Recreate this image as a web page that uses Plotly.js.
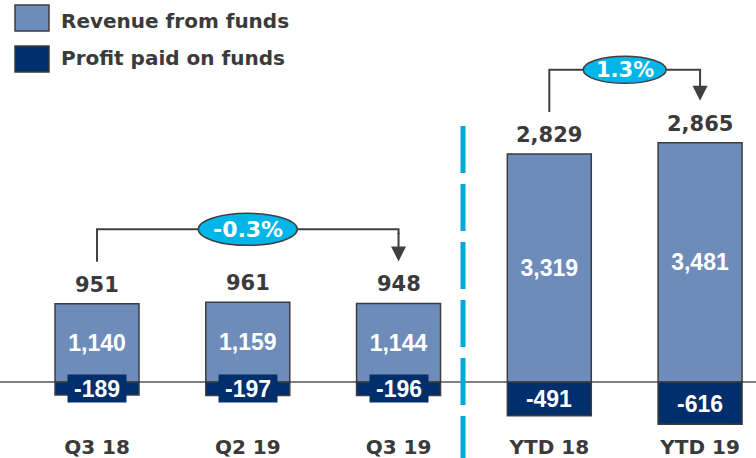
<!DOCTYPE html>
<html>
<head>
<meta charset="utf-8">
<script src="https://cdn.plot.ly/plotly-3.0.1.min.js"></script>
<style>html,body{margin:0;padding:0;background:#fff;}#chart{width:756px;height:458px;}</style>
</head>
<body>
<div id="chart"></div>
<script>
// ---- data ----
const categories = ["Q3 18", "Q2 19", "Q3 19", "YTD 18", "YTD 19"];
const revenue = [1140, 1159, 1144, 3319, 3481];
const profitPaid = [-189, -197, -196, -491, -616];
const netTotals = [951, 961, 948, 2829, 2865];
const changeLabels = ["-0.3%", "1.3%"];
const seriesNames = ["Revenue from funds", "Profit paid on funds"];

// ---- styling ----
const W = 756, H = 458, MB = 30;
const plotH = H - MB;
const yMin = -670, yMax = 5560;
const u = (yMax - yMin) / plotH; // data units per pixel
const xMin = -0.6435, xMax = 4.371;
const revColor = "#6E8CBA";
const profColor = "#002F6C";
const edge = "#3d3d3d";
const txt = "#3a3a3a";
const cyan = "#00B5E8";
const idx = categories.map((c, i) => i);

const traces = [
  {
    type: "bar", x: idx, y: revenue, name: seriesNames[0],
    marker: {color: revColor, line: {color: edge, width: 1.5}},
    texttemplate: "%{y:,}", textposition: "inside", insidetextanchor: "middle",
    textangle: 0, constraintext: "none",
    textfont: {family: "Liberation Sans, Arial, sans-serif", size: 23, color: "#ffffff", weight: "bold"},
    hoverinfo: "skip"
  },
  {
    type: "bar", x: idx, y: profitPaid, name: seriesNames[1],
    marker: {color: profColor, line: {color: edge, width: 1.5}},
    textposition: "none", hoverinfo: "skip"
  }
];

const annotations = [];
const shapes = [];

// net totals above bars
idx.forEach(i => {
  annotations.push({
    x: i, y: revenue[i], xref: "x", yref: "y", yanchor: "bottom", yshift: 5,
    text: netTotals[i].toLocaleString("en-US"), showarrow: false,
    font: {family: "DejaVu Sans, sans-serif", size: 21, color: txt, weight: "bold"}
  });
  // negative labels in navy boxes
  annotations.push({
    x: i, y: profitPaid[i] / 2, xref: "x", yref: "y", yanchor: "middle",
    text: profitPaid[i].toLocaleString("en-US"), showarrow: false,
    bgcolor: profColor, width: 58, height: 27, borderpad: 0,
    font: {family: "Liberation Sans, Arial, sans-serif", size: 23, color: "#ffffff", weight: "bold"}
  });
});

// change brackets
function bracket(a, b, label, ew, eh, fs) {
  const startY = revenue[a] + 42 * u;
  const topY = Math.max(...revenue.slice(a, b + 1)) + 73 * u;
  const tipY = revenue[b] + 42 * u;
  shapes.push({
    type: "path", xref: "x", yref: "y",
    path: `M${a},${startY} L${a},${topY} L${b},${topY} L${b},${topY - 5 * u}`,
    line: {color: "#404040", width: 2}
  });
  annotations.push({
    x: b, y: tipY, ax: b, ay: topY - 2 * u, xref: "x", yref: "y", axref: "x", ayref: "y",
    text: "", showarrow: true, arrowhead: 2, arrowsize: 1.5, arrowwidth: 2,
    arrowcolor: "#404040", standoff: 0, startstandoff: 0
  });
  const cx = (a + b) / 2;
  shapes.push({
    type: "circle", xref: "x", yref: "y", xsizemode: "pixel", ysizemode: "pixel",
    xanchor: cx, yanchor: topY, x0: -ew / 2, x1: ew / 2, y0: -eh / 2, y1: eh / 2,
    fillcolor: cyan, line: {color: "#404040", width: 1.5}
  });
  annotations.push({
    x: cx, y: topY, xref: "x", yref: "y", text: label, showarrow: false,
    font: {family: "DejaVu Sans, sans-serif", size: fs, color: "#ffffff", weight: "bold"}
  });
}
bracket(0, 2, changeLabels[0], 99, 32, 22);
bracket(3, 4, changeLabels[1], 83, 27, 21);

// dashed separator
shapes.push({
  type: "line", xref: "paper", yref: "paper",
  x0: 463 / W, x1: 463 / W, y0: 1 - 126 / plotH, y1: -40 / plotH,
  line: {color: "#0AA6D8", width: 5, dash: "47px,11px"}
});

// legend
const legRows = [[5, 31, 21], [46, 72, 58]];
seriesNames.forEach((n, j) => {
  const r = legRows[j];
  shapes.push({
    type: "rect", xref: "paper", yref: "paper",
    x0: 15 / W, x1: 49 / W, y0: 1 - r[1] / plotH, y1: 1 - r[0] / plotH,
    fillcolor: j === 0 ? revColor : profColor, line: {color: edge, width: 1.5}
  });
  annotations.push({
    x: 59 / W, y: 1 - r[2] / plotH, xref: "paper", yref: "paper",
    xanchor: "left", yanchor: "middle", text: n, showarrow: false,
    font: {family: "DejaVu Sans, sans-serif", size: 20, color: txt, weight: "bold"}
  });
});

const layout = {
  width: W, height: H,
  margin: {l: 0, r: 0, t: 0, b: MB, pad: 0},
  paper_bgcolor: "#ffffff", plot_bgcolor: "#ffffff",
  barmode: "relative", bargap: 0.443,
  showlegend: false,
  xaxis: {
    range: [xMin, xMax], tickvals: idx, ticktext: categories,
    showgrid: false, zeroline: false, showline: false,
    ticks: "outside", ticklen: 1, tickcolor: "rgba(0,0,0,0)",
    tickfont: {family: "DejaVu Sans, sans-serif", size: 20, color: txt, weight: "bold"},
    fixedrange: true
  },
  yaxis: {
    range: [yMin, yMax], showgrid: false, showticklabels: false, ticks: "",
    zeroline: true, zerolinecolor: "#808080", zerolinewidth: 2, fixedrange: true
  },
  shapes: shapes, annotations: annotations
};

Plotly.newPlot("chart", traces, layout, {staticPlot: true, displayModeBar: false});
</script>
</body>
</html>
